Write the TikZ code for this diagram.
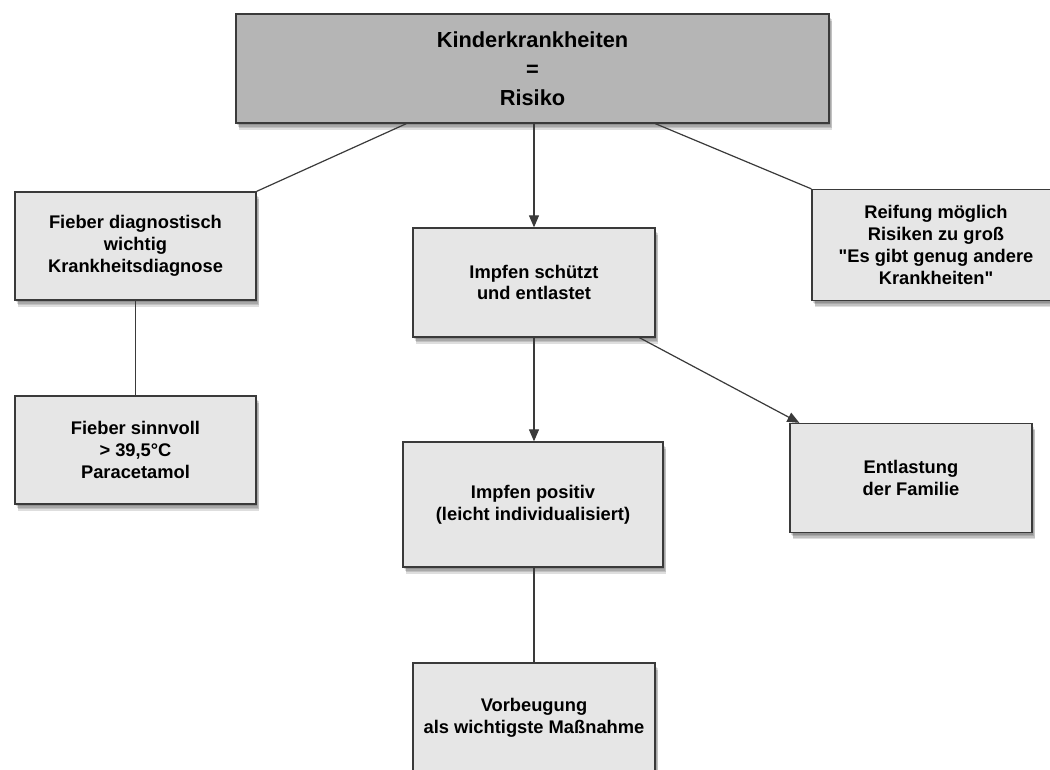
\documentclass[tikz,border=0pt]{standalone}
\usepackage{fontspec}
\setmainfont{Liberation Sans}[Ligatures=TeXOff]
\usetikzlibrary{arrows.meta,shadows,calc}
\definecolor{boxfill}{HTML}{E6E6E6}
\definecolor{topfill}{HTML}{B5B5B5}
\definecolor{edgecol}{HTML}{3A3A3A}
\tikzset{
  sh/.style 2 args={preaction={fill=black, opacity=0.13, transform canvas={xshift=#1, yshift=#2}}},
  boxstyle/.style={draw=edgecol, line width=1.3pt, fill=boxfill, rectangle, inner sep=0pt,
    align=center, font=\fontsize{18.3}{21.7}\selectfont\bfseries,
    sh={1pt}{-2pt}, sh={2pt}{-3.5pt}, sh={3pt}{-5pt}, sh={2.5pt}{-6.5pt}},
  topstyle/.style={boxstyle, fill=topfill, font=\fontsize{21.8}{29}\selectfont\bfseries},
  conn/.style={draw=edgecol, line width=1.2pt},
  arr/.style={conn, -{Triangle[length=12pt,width=10pt]}}
}
\begin{document}
\begin{tikzpicture}[x=1pt,y=-1pt]
\fill[white] (0,0) rectangle (1050,769);
\useasboundingbox (0,0) rectangle (1050,769);

\node[topstyle, minimum width=593pt, minimum height=109pt] (top) at (532.5,68.5)
  {Kinderkrankheiten\\=\\Risiko};
\node[boxstyle, minimum width=241pt, minimum height=108pt] (fd) at (135.5,246)
  {Fieber diagnostisch\\wichtig\\Krankheitsdiagnose};
\node[boxstyle, minimum width=241pt, minimum height=108pt] (fs) at (135.5,450)
  {Fieber sinnvoll\\> 39,5°C\\Paracetamol};
\node[boxstyle, minimum width=242pt, minimum height=109pt] (is) at (534,282.5)
  {Impfen schützt\\und entlastet};
\node[boxstyle, minimum width=248pt, minimum height=111pt] (rf) at (936,245)
  {Reifung möglich\\Risiken zu groß\\"Es gibt genug andere\\Krankheiten"};
\node[boxstyle, minimum width=242pt, minimum height=109pt] (en) at (911,478)
  {Entlastung\\der Familie};
\node[boxstyle, minimum width=260pt, minimum height=125pt] (ip) at (533,504.5)
  {Impfen positiv\\(leicht individualisiert)};
\node[boxstyle, minimum width=242pt, minimum height=110pt] (vb) at (534,718)
  {Vorbeugung\\als wichtigste Maßnahme};

\draw[conn] ([xshift=171pt]top.south west) -- (fd.north east);
\draw[arr] (top.south -| is.north) -- (is.north);
\draw[conn] ([xshift=420pt]top.south west) -- (rf.north west);
\draw[conn] (fd.south) -- (fs.north);
\draw[arr] (is.south) -- (is.south |- ip.north);
\draw[arr] ([xshift=227pt]is.south west) -- ([xshift=10pt]en.north west);
\draw[conn] (ip.south -| vb.north) -- (vb.north);
\end{tikzpicture}
\end{document}
